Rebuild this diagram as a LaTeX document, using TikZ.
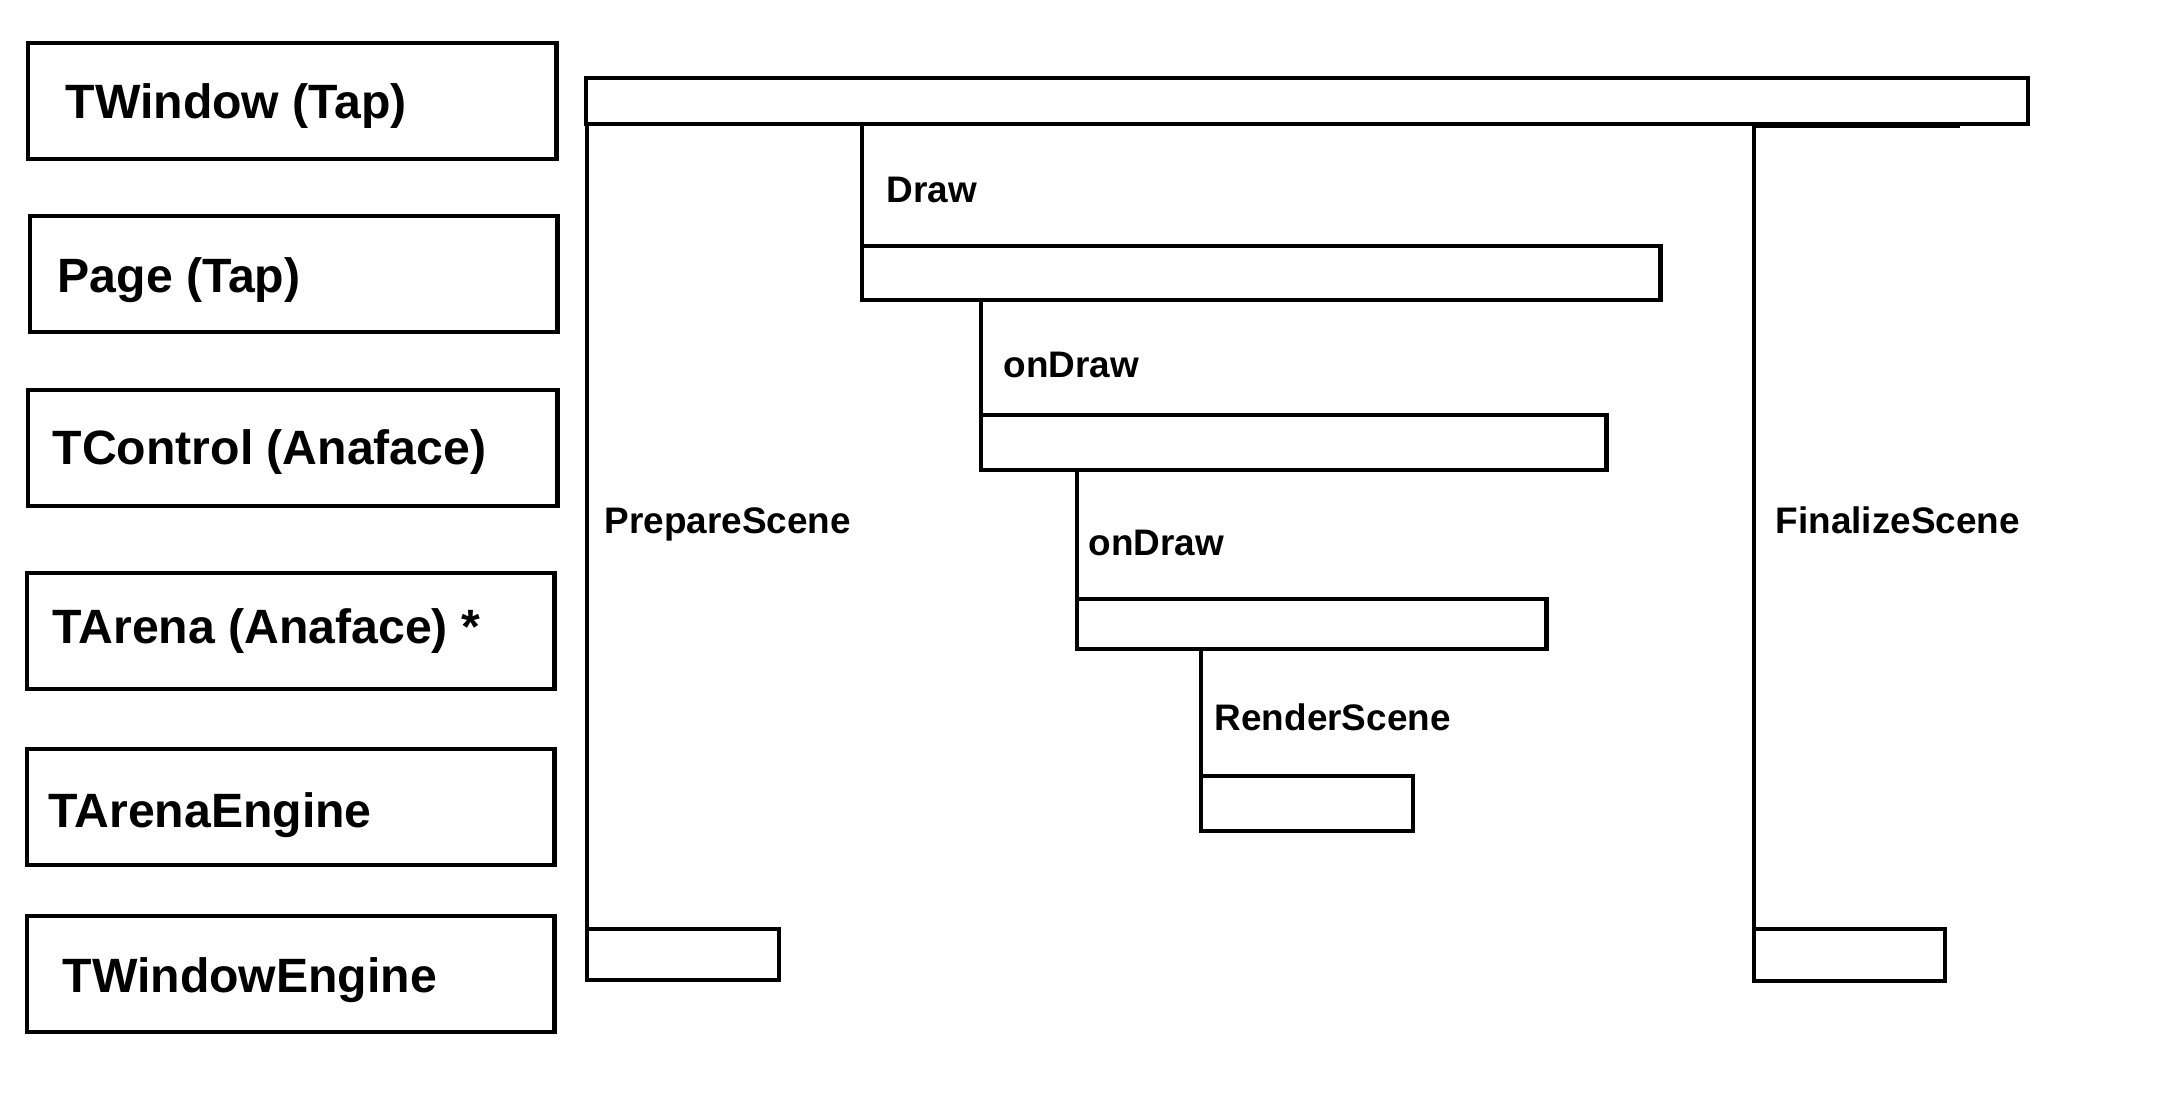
\documentclass[tikz,border=0pt]{standalone}
\usepackage{fontspec}
\setmainfont{Liberation Sans}
\begin{document}
\begin{tikzpicture}[x=0.01cm,y=-0.01cm,
  box/.style={draw, line width=0.045cm, inner sep=0, outer sep=0, anchor=north west},
  cls/.style={anchor=base west, inner sep=0, font=\bfseries\fontsize{13.7pt}{16pt}\selectfont},
  msg/.style={anchor=base west, inner sep=0, font=\bfseries\fontsize{10.5pt}{12pt}\selectfont},
  life/.style={line width=0.045cm}]
\useasboundingbox (0,0) rectangle (2164,1096);
% class boxes
\node[box, minimum width=5.28cm, minimum height=1.16cm] (twin) at (28,43) {};
\node[cls] (twinL) at (65,118) {TWindow (Tap)};
\node[box, minimum width=5.27cm, minimum height=1.16cm] (page) at (30,216) {};
\node[cls] (pageL) at (57,292) {Page (Tap)};
\node[box, minimum width=5.29cm, minimum height=1.16cm] (tctl) at (28,390) {};
\node[cls] (tctlL) at (52,464) {TControl (Anaface)};
\node[box, minimum width=5.27cm, minimum height=1.16cm] (tarena) at (27,573) {};
\node[cls] (tarenaL) at (52,643) {TArena (Anaface) *};
\node[box, minimum width=5.27cm, minimum height=1.16cm] (teng) at (27,749) {};
\node[cls] (tengL) at (48,827) {TArenaEngine};
\node[box, minimum width=5.27cm, minimum height=1.16cm] (tweng) at (27,916) {};
\node[cls] (twengL) at (62,992) {TWindowEngine};
% activation boxes
\node[box, minimum width=14.41cm, minimum height=0.46cm] (bar) at (586,78) {};
\node[box, minimum width=7.98cm, minimum height=0.54cm] (draw) at (862,246) {};
\node[box, minimum width=6.25cm, minimum height=0.55cm] (ondA) at (981,415) {};
\node[box, minimum width=4.69cm, minimum height=0.50cm] (ondB) at (1077,599) {};
\node[box, minimum width=2.12cm, minimum height=0.55cm] (rend) at (1201,776) {};
\node[box, minimum width=1.92cm, minimum height=0.51cm] (prep) at (587,929) {};
\node[box, minimum width=1.91cm, minimum height=0.52cm] (fin) at (1754,929) {};
% lifelines
\draw[life] (prep.north west) -- (prep.north west |- bar.south);
\draw[life] (draw.north west) -- (draw.north west |- bar.south);
\draw[life] (fin.north west) -- (fin.north west |- bar.south);
\draw[life] (ondA.north west) -- (ondA.north west |- draw.south);
\draw[life] (ondB.north west) -- (ondB.north west |- ondA.south);
\draw[life] (rend.north west) -- (rend.north west |- ondB.south);
\coordinate (artEnd) at (1960,127);
\draw[line width=0.02cm] (fin.north west |- artEnd) -- (artEnd);
% labels
\node[msg] (lPrep) at (604,533) {PrepareScene};
\node[msg] (lDraw) at (886,202) {Draw};
\node[msg] (lOndA) at (1003,377) {onDraw};
\node[msg] (lOndB) at (1088,555) {onDraw};
\node[msg] (lRend) at (1214,730) {RenderScene};
\node[msg] (lFin) at (1775,533) {FinalizeScene};
\end{tikzpicture}
\end{document}
